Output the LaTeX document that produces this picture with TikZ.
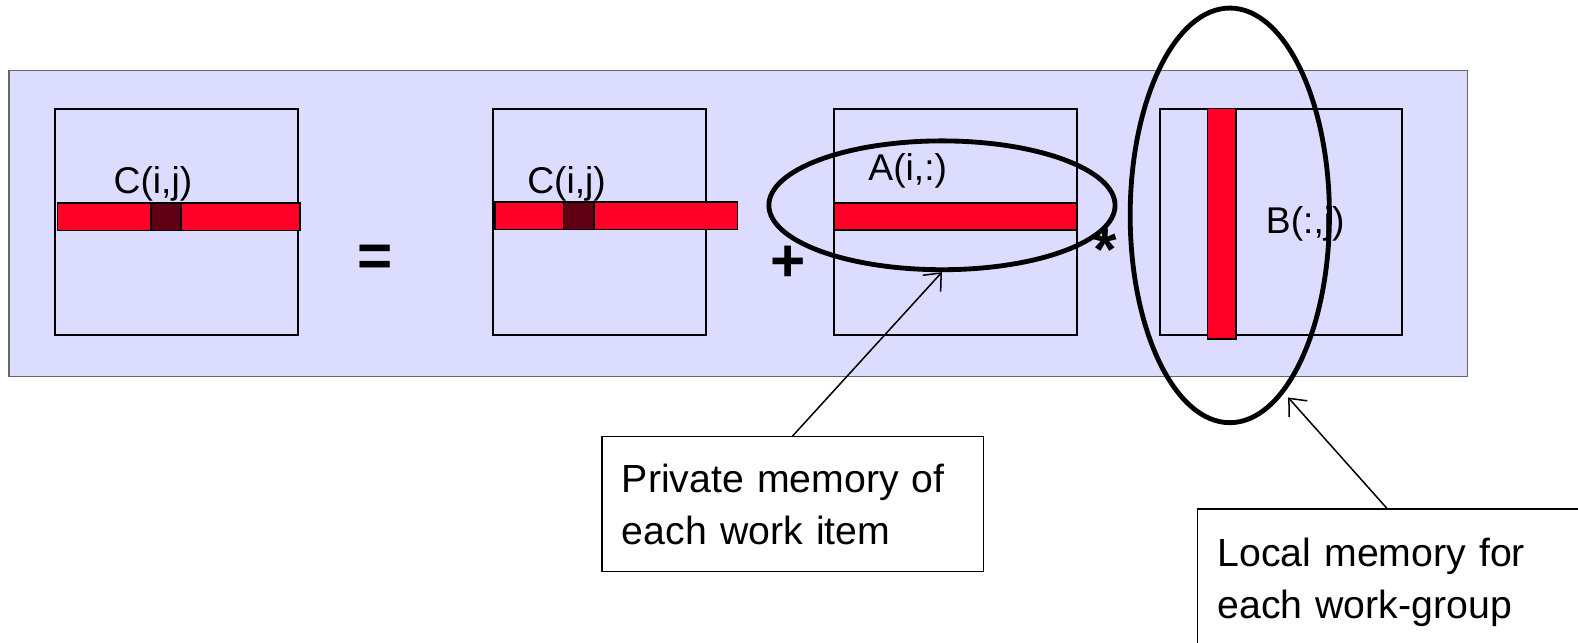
\documentclass[tikz,border=0pt]{standalone}
\usepackage{fontspec}
\setmainfont{Liberation Sans}
\usepackage{xcolor}
\usetikzlibrary{arrows.meta,shapes.geometric}
\definecolor{lavender}{RGB}{220,220,255}
\definecolor{rowred}{RGB}{255,0,40}
\definecolor{cellred}{RGB}{95,0,20}

\begin{document}
\begin{tikzpicture}[
    x=0.5pt, y=-0.5pt,
    frame/.style={draw=black!60, fill=lavender, line width=0.6pt},
    mat/.style={draw, line width=1pt, minimum width=120.5pt, minimum height=112.5pt, inner sep=0pt},
    row/.style={draw, fill=rowred, line width=0.8pt, minimum width=120.5pt, minimum height=13.5pt, inner sep=0pt},
    col/.style={draw, fill=rowred, line width=0.8pt, minimum width=14pt, minimum height=114.5pt, inner sep=0pt},
    cell/.style={draw, fill=cellred, line width=0.8pt, minimum width=15pt, minimum height=13.5pt, inner sep=0pt},
    lbl/.style={font=\fontsize{18.5}{21}\selectfont, inner sep=0pt},
    op/.style={font=\fontsize{30}{32}\selectfont\bfseries, inner sep=0pt},
    ring/.style={ellipse, draw, line width=2.4pt, inner sep=0pt},
    callout/.style={draw, fill=white, line width=0.7pt, align=left, inner xsep=10pt, font=\fontsize{19.5}{26}\selectfont},
    pointer/.style={-{Straight Barb[length=7pt, width=12pt]}, line width=0.75pt}
  ]
  \useasboundingbox (0,0) rectangle (1568,638);
  \draw[frame] (9,70) rectangle (1458,374);

  % C = C + A * B
  \node[mat] (mc) at (175.5,220.5) {};
  \node[row] (rc) at (177.5,215.5) {};
  \node[cell] (cc) at (165,215.5) {};
  \node[lbl] (lc) at (152,183) {C(i,j)};

  \node[op] (eq) at (373,259) {=};

  \node[mat, minimum width=106pt] (mc2) at (596,220.5) {};
  \node[row] (rc2) at (612.5,214.5) {};
  \node[cell] (cc2) at (575,214.5) {};
  \node[lbl] (lc2) at (563,183) {C(i,j)};

  \node[op] (plus) at (783,262) {+};

  \node[mat] (ma) at (949.5,220.5) {};
  \node[row] (ra) at (949.5,215) {};
  \node[lbl] (la) at (902,170) {A(i,:)};

  \node[op] (times) at (1098,248) {*};

  \node[mat, minimum width=120pt] (mb) at (1273,220.5) {};
  \node[col] (cb) at (1214,222.5) {};
  \node[lbl] (lb) at (1297,222) {B(:,j)};

  \node[ring, minimum width=172pt, minimum height=64pt] (ell1) at (936,204) {};
  \node[ring, minimum width=99pt, minimum height=206pt] (ell2) at (1222,214) {};

  \node[callout, text width=169.5pt, minimum height=67pt] (pm) at (787.5,501) {Private memory of\\each work item};
  \node[callout, text width=190pt, minimum height=73pt, anchor=north west] (lm) at (1189,505) {Local memory for\\each work-group};
  \coordinate (lmtop) at (1378,505);

  \draw[pointer] (pm.north) -- (ell1.south);
  \draw[pointer, shorten >=3pt] (lmtop) -- (ell2.-73);
\end{tikzpicture}
\end{document}
